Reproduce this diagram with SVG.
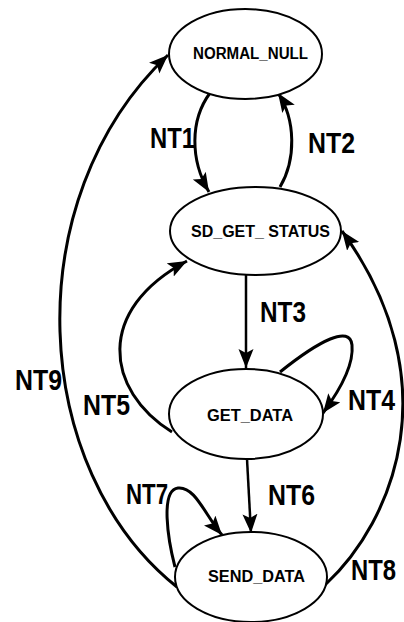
<svg xmlns="http://www.w3.org/2000/svg" width="404" height="622" viewBox="0 0 404 622">
<style>
.node ellipse{fill:#fff;stroke:#000;stroke-width:2}
.nl{font-family:"Liberation Sans Narrow","Liberation Sans",Arial,sans-serif;font-weight:bold;font-size:16px;fill:#000}
.el{font-family:"Liberation Sans Narrow","Liberation Sans",Arial,sans-serif;font-weight:bold;font-size:30px;fill:#000}
.edge{fill:none;stroke:#000;stroke-width:3;marker-end:url(#ah)}
.thin{stroke-width:2.5}
</style>
<defs>
<marker id="ah" markerUnits="userSpaceOnUse" markerWidth="22" markerHeight="16" refX="19" refY="7.5" orient="auto" viewBox="0 0 22 16">
<path d="M0,0 L19,7.5 L0,15 L4,7.5 z" fill="#000"/>
</marker>
</defs>
<rect width="404" height="622" fill="#fff"/>
<g id="connectors">
<path class="edge" d="M210 93 C190 120 190 160 209 192"/>
<path class="edge" d="M280 187 C296 160 296 120 278 93"/>
<path class="edge thin" d="M246 275 L246 368"/>
<path class="edge" d="M280 372 C320 340 350 325 352 345 C354 365 340 390 323 413"/>
<path class="edge" d="M172 432 C105 390 95 310 187 261"/>
<path class="edge thin" d="M247 459 L251 533"/>
<path class="edge" d="M175 567 C168 540 160 490 178 488 C195 486 205 515 222 535"/>
<path class="edge" d="M325 585 C395 520 450 380 342 231"/>
<path class="edge" d="M177 587 C30 470 15 200 168 55"/>
<text class="el" x="150" y="148" textLength="45" lengthAdjust="spacingAndGlyphs">NT1</text>
<text class="el" x="308" y="153" textLength="47" lengthAdjust="spacingAndGlyphs">NT2</text>
<text class="el" x="260" y="322" textLength="46" lengthAdjust="spacingAndGlyphs">NT3</text>
<text class="el" x="348" y="410" textLength="47" lengthAdjust="spacingAndGlyphs">NT4</text>
<text class="el" x="83" y="415" textLength="47" lengthAdjust="spacingAndGlyphs">NT5</text>
<text class="el" x="268" y="505" textLength="47" lengthAdjust="spacingAndGlyphs">NT6</text>
<text class="el" x="126" y="504" textLength="42" lengthAdjust="spacingAndGlyphs">NT7</text>
<text class="el" x="351" y="580" textLength="45" lengthAdjust="spacingAndGlyphs">NT8</text>
<text class="el" x="15" y="390" textLength="47" lengthAdjust="spacingAndGlyphs">NT9</text>
</g>
<g id="normal_null" class="node">
<ellipse cx="245.5" cy="54" rx="76.5" ry="45"/>
<text class="nl" x="193" y="59" textLength="115" lengthAdjust="spacingAndGlyphs">NORMAL_NULL</text>
</g>
<g id="sd_get_status" class="node">
<ellipse cx="255.5" cy="231" rx="85.5" ry="44"/>
<text class="nl" x="191" y="237" textLength="139" lengthAdjust="spacingAndGlyphs">SD_GET_ STATUS</text>
</g>
<g id="get_data" class="node">
<ellipse cx="246" cy="414" rx="77" ry="45"/>
<text class="nl" x="207" y="421" textLength="86" lengthAdjust="spacingAndGlyphs">GET_DATA</text>
</g>
<g id="send_data" class="node">
<ellipse cx="251" cy="577" rx="76" ry="45"/>
<text class="nl" x="208" y="582" textLength="97" lengthAdjust="spacingAndGlyphs">SEND_DATA</text>
</g>
</svg>
